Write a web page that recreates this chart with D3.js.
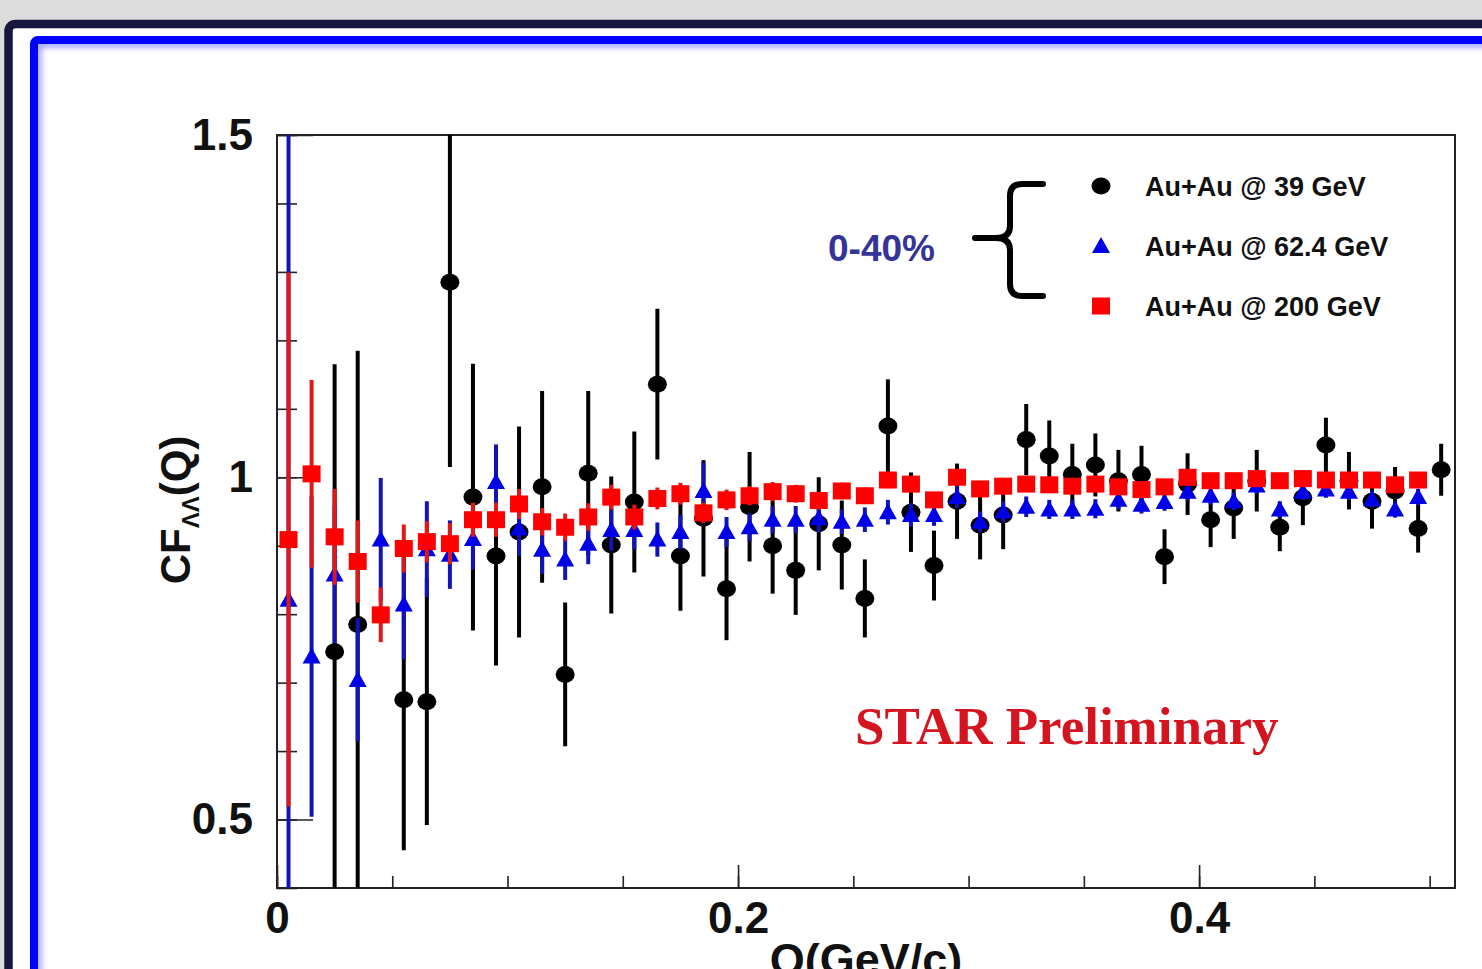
<!DOCTYPE html>
<html><head><meta charset="utf-8">
<script src="https://cdn.jsdelivr.net/npm/d3@7"></script>
<style>
html,body{margin:0;padding:0;background:#dcdcdc;overflow:hidden;}
svg{display:block;}
</style></head>
<body>
<script>
// ---- data ----
const qBins = [0.005,0.015,0.025,0.035,0.045,0.055,0.065,0.075,0.085,0.095,
  0.105,0.115,0.125,0.135,0.145,0.155,0.165,0.175,0.185,0.195,
  0.205,0.215,0.225,0.235,0.245,0.255,0.265,0.275,0.285,0.295,
  0.305,0.315,0.325,0.335,0.345,0.355,0.365,0.375,0.385,0.395,
  0.405,0.415,0.425,0.435,0.445,0.455,0.465,0.475,0.485,0.495,0.505];

const cf39 = [null,null,0.745,0.785,null,0.675,0.672,1.285,0.971,0.885,
  0.920,0.986,0.712,1.006,0.901,0.964,1.136,0.885,0.940,0.837,
  0.957,0.900,0.864,0.932,0.901,0.823,1.075,0.949,0.871,0.965,
  0.930,0.945,1.055,1.031,1.004,1.018,0.995,1.004,0.884,0.990,
  0.938,0.955,0.995,0.927,0.970,1.047,0.995,0.965,0.980,0.925,1.011];
const err39 = [null,null,0.42,0.40,null,0.22,0.18,0.27,0.195,0.16,
  0.154,0.14,0.105,0.12,0.10,0.103,0.11,0.08,0.085,0.075,
  0.08,0.07,0.065,0.068,0.065,0.057,0.068,0.058,0.051,0.055,
  0.05,0.05,0.052,0.052,0.045,0.046,0.045,0.042,0.04,0.045,
  0.04,0.045,0.045,0.035,0.04,0.04,0.042,0.04,0.035,0.035,0.038];

const cf62 = [0.821,0.738,0.858,0.704,0.909,0.814,0.895,0.887,0.910,0.993,
  0.925,0.894,0.880,0.903,0.923,0.923,0.909,0.920,0.980,0.920,
  0.927,0.938,0.938,0.940,0.935,0.938,0.949,0.945,0.945,0.971,
  0.935,0.950,0.957,0.953,0.953,0.954,0.967,0.960,0.964,0.979,
  0.973,0.965,0.988,0.953,0.979,0.982,0.979,0.968,0.953,0.971,null];
const err62 = [1.0,0.234,0.10,0.09,0.09,0.08,0.07,0.05,0.045,0.055,
  0.04,0.035,0.03,0.03,0.03,0.028,0.025,0.025,0.042,0.022,
  0.02,0.02,0.02,0.02,0.018,0.018,0.018,0.017,0.016,0.016,
  0.015,0.015,0.015,0.014,0.014,0.014,0.014,0.013,0.013,0.013,
  0.013,0.013,0.012,0.012,0.012,0.012,0.012,0.012,0.012,0.012,null];

const cf200 = [0.909,1.005,0.913,0.877,0.799,0.896,0.906,0.903,0.938,0.938,
  0.961,0.935,0.927,0.942,0.971,0.942,0.969,0.976,0.948,0.967,
  0.973,0.979,0.976,0.966,0.980,0.973,0.996,0.990,0.967,1.000,
  0.983,0.987,0.990,0.989,0.987,0.990,0.986,0.982,0.986,1.000,
  0.995,0.995,0.998,0.995,0.998,0.996,0.996,0.996,0.989,0.996,null];
const err200 = [0.39,0.137,0.07,0.06,0.04,0.035,0.03,0.03,0.025,0.025,
  0.022,0.02,0.02,0.02,0.018,0.018,0.016,0.016,0.015,0.015,
  0.014,0.014,0.013,0.013,0.012,0.012,0.012,0.012,0.011,0.011,
  0.011,0.011,0.01,0.01,0.01,0.01,0.01,0.01,0.01,0.01,
  0.01,0.01,0.01,0.01,0.01,0.01,0.01,0.01,0.01,0.01,null];

const xTickLabels = [0, 0.2, 0.4];
const yTickLabels = [0.5, 1, 1.5];
const legendLabels = ["Au+Au @ 39 GeV", "Au+Au @ 62.4 GeV", "Au+Au @ 200 GeV"];

// ---- layout ----
const W = 1482, H = 969;
const svg = d3.select("body").append("svg").attr("width", W).attr("height", H);

// background + frames
svg.append("rect").attr("width", W).attr("height", H).attr("fill", "#dcdcdc");
svg.append("rect").attr("x", 8.5).attr("y", 24).attr("width", 1600).attr("height", 1200)
  .attr("rx", 7).attr("fill", "#ffffff").attr("stroke", "#16163f").attr("stroke-width", 8.5);
const defs = svg.append("defs");
const f = defs.append("filter").attr("id", "glow").attr("x", "-5%").attr("y", "-5%").attr("width", "110%").attr("height", "110%");
f.append("feGaussianBlur").attr("stdDeviation", 3);
svg.append("rect").attr("x", 38).attr("y", 44).attr("width", 1600).attr("height", 1200)
  .attr("fill", "none").attr("stroke", "#9090ff").attr("stroke-width", 6).attr("filter", "url(#glow)");
svg.append("rect").attr("x", 34).attr("y", 40).attr("width", 1600).attr("height", 1200)
  .attr("rx", 4).attr("fill", "none").attr("stroke", "#0000ff").attr("stroke-width", 8);

const x = d3.scaleLinear().domain([0, 0.511]).range([277, 1455]);
const y = d3.scaleLinear().domain([0.4, 1.5]).range([888, 135]);

defs.append("clipPath").attr("id", "plotclip").append("rect")
  .attr("x", 277).attr("y", 135).attr("width", 1455 - 277).attr("height", 888 - 135);

const font = "'Liberation Sans', Arial, Helvetica, sans-serif";

// axes ticks (inward)
const gx = svg.append("g").attr("transform", "translate(0,888)");
gx.call(d3.axisBottom(x).tickValues(d3.range(0, 0.51, 0.05)).tickSize(-12).tickFormat(""));
gx.append("g").call(d3.axisBottom(x).tickValues(xTickLabels).tickSize(-23).tickPadding(14)
  .tickFormat(d => d === 0 ? "0" : d3.format(".1f")(d)));
gx.selectAll("path.domain").remove();
gx.selectAll("line").attr("stroke", "#222").attr("stroke-width", 1.6);
gx.selectAll("text").attr("font-family", font).attr("font-weight", "bold").attr("font-size", 44).attr("fill", "#111");

const gy = svg.append("g").attr("transform", "translate(277,0)");
gy.call(d3.axisLeft(y).tickValues(d3.range(0.4, 1.51, 0.1)).tickSize(-20).tickFormat(""));
gy.append("g").call(d3.axisLeft(y).tickValues(yTickLabels).tickSize(-36).tickPadding(24)
  .tickFormat(d => String(d)));
gy.selectAll("path.domain").remove();
gy.selectAll("line").attr("stroke", "#222").attr("stroke-width", 1.6);
gy.selectAll("text").attr("font-family", font).attr("font-weight", "bold").attr("font-size", 44).attr("fill", "#111");

// plot frame
svg.append("rect").attr("x", 277).attr("y", 135).attr("width", 1455 - 277).attr("height", 888 - 135)
  .attr("fill", "none").attr("stroke", "#222").attr("stroke-width", 2);

// axis titles
svg.append("text").attr("x", 866).attr("y", 975).attr("text-anchor", "middle")
  .attr("font-family", font).attr("font-weight", "bold").attr("font-size", 45).attr("fill", "#111")
  .text("Q(GeV/c)");
const yl = svg.append("text").attr("transform", "translate(190,510) rotate(-90)")
  .attr("text-anchor", "middle").attr("font-family", font).attr("font-weight", "bold")
  .attr("font-size", 42).attr("fill", "#111");
yl.append("tspan").text("CF");
yl.append("tspan").attr("font-size", 24).attr("dy", 9).text("ΛΛ");
yl.append("tspan").attr("dy", -9).text("(Q)");

// series
const series = [
  {vals: cf39, errs: err39, color: "#000000", bar: "#000000", shape: "circle"},
  {vals: cf62, errs: err62, color: "#0000e6", bar: "#1414b4", shape: "triangle"},
  {vals: cf200, errs: err200, color: "#ff0000", bar: "#e01818", shape: "square"}
];

const plot = svg.append("g").attr("clip-path", "url(#plotclip)");

function drawMarker(g, shape, color) {
  if (shape === "circle") {
    g.append("ellipse").attr("rx", 9.5).attr("ry", 8.5).attr("fill", color);
  } else if (shape === "triangle") {
    g.append("path").attr("d", "M0,-9L9,7L-9,7Z").attr("fill", color);
  } else {
    g.append("rect").attr("x", -9).attr("y", -8.5).attr("width", 18).attr("height", 17).attr("fill", color);
  }
}

series.forEach(s => {
  const pts = qBins.map((q, i) => ({q, v: s.vals[i], e: s.errs[i]})).filter(d => d.v !== null);
  const g = plot.append("g");
  g.selectAll("line").data(pts).join("line")
    .attr("x1", d => x(d.q)).attr("x2", d => x(d.q))
    .attr("y1", d => y(d.v + d.e)).attr("y2", d => y(d.v - d.e))
    .attr("stroke", s.bar).attr("stroke-width", 4);
  g.selectAll("g.m").data(pts).join("g").attr("class", "m")
    .attr("transform", d => `translate(${x(d.q)},${y(d.v)})`)
    .each(function() { drawMarker(d3.select(this), s.shape, s.color); });
});

// legend
const legY = [186, 246, 306];
series.forEach((s, i) => {
  const g = svg.append("g").attr("transform", `translate(1101,${legY[i]})`);
  drawMarker(g, s.shape, s.color);
  svg.append("text").attr("x", 1145).attr("y", legY[i] + 10)
    .attr("font-family", font).attr("font-weight", "bold").attr("font-size", 27).attr("fill", "#111")
    .text(legendLabels[i]);
});

// 0-40% and brace
svg.append("text").attr("x", 828).attr("y", 261)
  .attr("font-family", font).attr("font-weight", "bold").attr("font-size", 37).attr("fill", "#333399")
  .text("0-40%");
svg.append("path")
  .attr("d", "M1043,184 L1022,184 Q1010,184 1010,196 L1010,226 Q1010,238 996,238 L975,238 M996,238 Q1010,238 1010,250 L1010,284 Q1010,296 1022,296 L1043,296")
  .attr("fill", "none").attr("stroke", "#000").attr("stroke-width", 6).attr("stroke-linecap", "round");

// STAR Preliminary
svg.append("text").attr("x", 855).attr("y", 744)
  .attr("font-family", "'Liberation Serif', 'Times New Roman', serif").attr("font-weight", "bold")
  .attr("font-size", 53).attr("fill", "#d4141e")
  .text("STAR Preliminary");
</script>
</body></html>
